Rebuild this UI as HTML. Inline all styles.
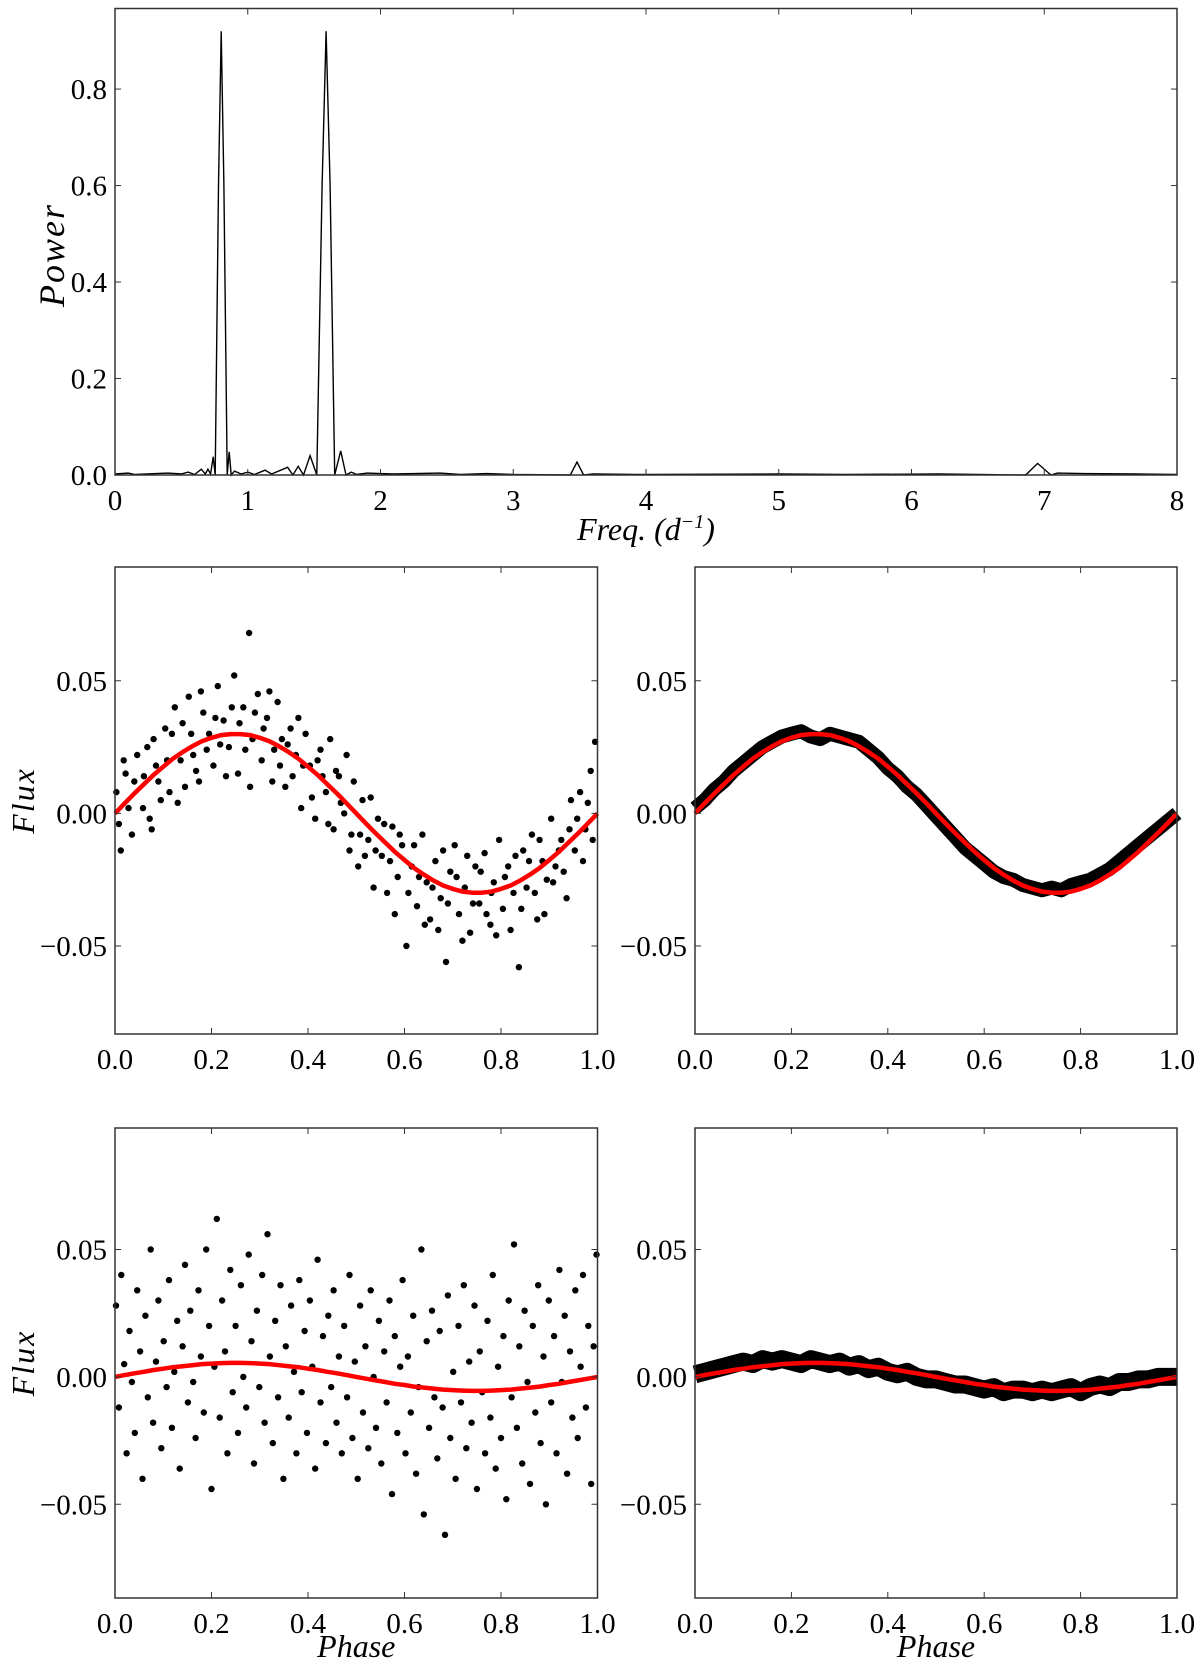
<!DOCTYPE html>
<html><head><meta charset="utf-8">
<style>
html,body{margin:0;padding:0;background:#fff;}
svg text{font-family:"Liberation Serif","DejaVu Serif",serif;fill:#000;}
</style></head>
<body>
<svg id="chart" width="1200" height="1662" viewBox="0 0 1200 1662" xmlns="http://www.w3.org/2000/svg"></svg>
<script>
// ---- periodogram data (freq, power) ----
const pgFreq = [0,0.1,0.15,0.4,0.5,0.55,0.6,0.65,0.68,0.7,0.72,0.74,0.755,0.78,0.8,0.82,0.845,0.86,0.875,0.9,0.95,1.0,1.05,1.13,1.18,1.3,1.34,1.38,1.42,1.47,1.52,1.56,1.59,1.62,1.655,1.7,1.74,1.78,1.82,1.9,2.0,2.1,2.45,2.6,2.8,3.0,3.43,3.48,3.53,3.6,4.0,5.0,5.5,6.2,6.86,6.95,7.05,7.1,7.3,7.7,8.0];
const pgPower = [0.002,0.004,0.001,0.004,0.002,0.006,0.001,0.012,0.002,0.012,0.002,0.038,0.0,0.6,0.92,0.6,0.0,0.048,0.0,0.008,0.002,0.006,0.001,0.01,0.002,0.016,0.0,0.018,0.0,0.04,0.0,0.6,0.92,0.6,0.0,0.05,0.0,0.006,0.001,0.004,0.003,0.002,0.004,0.001,0.003,0.001,0.0,0.027,0.0,0.002,0.001,0.002,0.001,0.002,0.0,0.024,0.0,0.004,0.003,0.002,0.001];
const pgXTicks = [0,1,2,3,4,5,6,7,8];
const pgYTicks = [0.0,0.2,0.4,0.6,0.8];

// ---- phase-folded data (phase in 1/1000, flux in 1e-3) ----
const midLeftPhase = [3,12,22,35,46,58,67,76,85,95,104,113,124,136,145,153,162,174,183,195,204,213,225,236,247,255,266,278,285,296,304,315,326,337,346,353,364,375,386,395,404,415,426,437,446,453,464,475,486,495,504,513,525,536,545,553,564,575,586,595,604,615,626,637,646,653,664,675,686,695,704,713,725,736,747,755,766,778,785,796,804,815,826,837,846,853,864,875,886,895,904,913,925,936,945,953,964,975,986,995,
8,18,28,40,60,72,80,90,108,118,130,140,158,168,178,190,208,218,230,242,258,270,280,290,308,320,330,342,358,368,380,390,408,420,430,442,458,468,480,490,508,518,530,540,558,570,580,590,608,620,630,642,658,670,680,690,708,720,730,742,758,770,780,790,808,820,830,842,858,870,880,890,908,920,930,942,958,970,980,990];
const midLeftFlux = [8,-14,15,-8,22,2,25,-6,18,5,32,8,40,20,10,44,22,12,38,30,18,48,35,25,52,15,40,68,28,45,20,36,12,42,28,10,32,22,2,30,18,-2,24,8,28,-6,14,0,-14,12,-20,5,-10,-28,-2,-16,-30,-5,-24,-12,-50,-20,-35,-8,-26,-40,-18,-32,-56,-22,-12,-38,-28,-45,-20,-34,-15,-42,-26,-10,-36,-20,-30,-58,-14,-28,-8,-40,-18,-25,-2,-20,-10,-32,5,-14,8,-6,16,27,
-4,20,2,12,14,-2,28,12,20,30,4,34,30,16,46,24,36,26,14,40,34,24,10,38,32,46,24,18,26,14,36,18,6,20,14,-4,16,4,22,-8,-8,-16,6,-14,-4,-18,-38,-8,-30,-12,-24,-42,-28,-44,-14,-34,-24,-48,-16,-34,-22,-38,-30,-46,-24,-44,-16,-36,-18,-30,-10,-38,-26,-14,-22,-6,-2,-18,4,-10];
const midRightFlux = [2,5,9,12,16,19,22,25,27,29,30,31,29,28,30,29,28,27,24,21,17,14,10,7,3,-1,-5,-9,-13,-16,-19,-22,-24,-25,-27,-28,-29,-28,-29,-27,-26,-25,-23,-21,-18,-15,-12,-9,-6,-3,0];
const botLeftPhase = [2,8,13,19,24,30,35,41,46,52,57,63,68,74,79,85,90,96,101,107,112,118,123,129,134,140,145,151,156,162,167,173,178,184,189,195,200,206,211,217,222,228,233,239,244,250,255,261,266,272,277,283,288,294,299,305,310,316,321,327,332,338,343,349,354,360,365,371,376,382,387,393,398,404,409,415,420,426,431,437,442,448,453,459,464,470,475,481,486,492,497,503,508,514,519,525,530,536,541,547,552,558,563,569,574,580,585,591,596,602,607,613,618,624,629,635,640,646,651,657,662,668,673,679,684,690,695,701,706,712,717,723,728,734,739,745,750,756,761,767,772,778,783,789,794,800,805,811,816,822,827,833,838,844,849,855,860,866,871,877,882,888,893,899,904,910,915,921,926,932,937,943,948,954,959,965,970,976,981,987,992,998];
const botLeftFlux = [28,-12,40,5,-30,18,-2,-22,34,10,-40,24,-8,50,-18,6,30,-28,14,-4,38,-20,2,22,-36,12,44,-10,26,-2,-24,34,8,-14,50,20,-44,4,62,-16,30,10,-30,42,-6,20,-22,36,0,-12,48,14,-34,26,-4,40,-18,56,8,-26,22,-8,36,-40,12,-16,28,2,-30,38,-6,18,-22,30,4,-36,46,-10,16,-26,24,-4,34,-18,8,-30,20,-8,40,-24,6,-40,28,-14,12,-28,34,0,-20,22,-34,10,-10,30,-46,16,-22,4,38,-30,8,-14,24,-38,-4,50,-54,14,-20,26,-8,-32,18,-12,-62,32,-24,2,-40,20,-10,36,-28,6,-18,28,-44,10,-6,-30,22,-16,40,-36,4,-24,16,-48,30,-8,52,-20,12,-34,26,-2,-42,20,-14,36,-26,8,-50,30,-10,16,-30,42,-2,24,-38,10,-16,34,-24,4,40,-12,20,-42,12,48];
const botRightFlux = [1,2,3,4,5,6,5,7,6,7,6,5,7,6,5,6,4,5,3,4,2,1,2,0,-1,-1,-2,-3,-3,-4,-5,-4,-6,-5,-5,-6,-5,-6,-5,-4,-6,-4,-3,-4,-2,-2,-1,-1,0,0,0];
// red fit curves, sampled at phase 0..1 step 0.02 (1e-3)
const fitMid = [0,3.8,7.5,11,14.5,17.6,20.6,23.1,25.3,27.2,28.5,29.5,29.9,29.9,29.5,28.5,27.2,25.3,23.1,20.6,17.6,14.5,11,7.5,3.8,0,-3.8,-7.5,-11,-14.5,-17.6,-20.6,-23.1,-25.3,-27.2,-28.5,-29.5,-29.9,-29.9,-29.5,-28.5,-27.2,-25.3,-23.1,-20.6,-17.6,-14.5,-11,-7.5,-3.8,0];
const fitBot = [0,0.7,1.4,2.0,2.7,3.2,3.8,4.2,4.6,5.0,5.2,5.4,5.5,5.5,5.4,5.2,5.0,4.6,4.2,3.8,3.2,2.7,2.0,1.4,0.7,0,-0.7,-1.4,-2.0,-2.7,-3.2,-3.8,-4.2,-4.6,-5.0,-5.2,-5.4,-5.5,-5.5,-5.4,-5.2,-5.0,-4.6,-4.2,-3.8,-3.2,-2.7,-2.0,-1.4,-0.7,0];
const phaseTicks = ['0.0','0.2','0.4','0.6','0.8','1.0'];
const fluxTicks = [0.05,0.0,-0.05];

const NS='http://www.w3.org/2000/svg';
const svg=document.getElementById('chart');
function mk(tag,attrs,parent){const e=document.createElementNS(NS,tag);for(const k in attrs)e.setAttribute(k,attrs[k]);(parent||svg).appendChild(e);return e;}
function fmtFlux(v){if(Math.abs(v)<1e-9)return '0.00';return (v<0?'\u22120.05':'0.05');}

function axesFrame(g,L,R,T,B){
  const r=mk('rect',{x:L,y:T,width:R-L,height:B-T,fill:'none',stroke:'#333','stroke-width':1.5},g);
  
  
}
function tick(g,x1,y1,x2,y2){mk('line',{x1:x1,y1:y1,x2:x2,y2:y2,stroke:'#333','stroke-width':1},g);}

// ---------- periodogram ----------
(function(){
  const L=115,R=1177,T=8.5,B=475,xmin=0,xmax=8,ymin=0,ymax=0.967;
  const sx=v=>L+(v-xmin)/(xmax-xmin)*(R-L);
  const sy=v=>B-(v-ymin)/(ymax-ymin)*(B-T);
  const g=mk('g',{});
  
  
  let d='';
  pgFreq.forEach((f,i)=>{d+=(i?'L':'M')+sx(f).toFixed(1)+','+sy(pgPower[i]).toFixed(1);});
  const p=mk('path',{d:d,fill:'none',stroke:'#000','stroke-width':1.4},g);
  
  
  axesFrame(g,L,R,T,B);
  pgXTicks.forEach(v=>{const x=sx(v);tick(g,x,B,x,B-6);tick(g,x,T,x,T+6);
    const t=mk('text',{x:x,y:B+35,'font-size':29,'text-anchor':'middle'},g);t.textContent=String(v);
    
    });
  pgYTicks.forEach(v=>{const y=sy(v);tick(g,L,y,L+6,y);tick(g,R,y,R-6,y);
    const t=mk('text',{x:L-8,y:y+10,'font-size':29,'text-anchor':'end'},g);t.textContent=v.toFixed(1);
    
    });
  const xl=mk('text',{x:(L+R)/2,y:540,'font-size':32,'text-anchor':'middle','font-style':'italic'},g);
  xl.innerHTML='Freq. (d<tspan font-size="20" dy="-12">\u22121</tspan><tspan dy="12">)</tspan>';
  
  
  const yl=mk('text',{x:0,y:0,'font-size':36,'text-anchor':'middle','font-style':'italic','letter-spacing':2,transform:'translate(64,255) rotate(-90)'},g);
  yl.textContent='Power';
  
  
})();

// ---------- phase panels ----------
function phasePanel(name,L,R,T,B,ymin,ymax,opts){
  const sx=v=>L+v*(R-L);
  const sy=v=>B-(v-ymin)/(ymax-ymin)*(B-T);
  const g=mk('g',{});
  
  
  if(opts.phase){
    opts.flux.forEach((f,i)=>{
      const c=mk('circle',{cx:sx(opts.phase[i]/1000).toFixed(1),cy:sy(f/1000).toFixed(1),r:3.2,fill:'#000'},g);
      
      
    });
  } else {
    let d='';
    opts.flux.forEach((f,i)=>{d+=(i?'L':'M')+sx(i/(opts.flux.length-1)).toFixed(1)+','+sy(f/1000).toFixed(1);});
    const p=mk('path',{d:d,fill:'none',stroke:'#000','stroke-width':opts.bw,'stroke-linejoin':'round'},g);
    
    
  }
  let d='';
  opts.fit.forEach((f,i)=>{d+=(i?'L':'M')+sx(i/(opts.fit.length-1)).toFixed(1)+','+sy(f/1000).toFixed(1);});
  const fl=mk('path',{d:d,fill:'none',stroke:'#f00','stroke-width':4.5,'stroke-linejoin':'round'},g);
  
  
  axesFrame(g,L,R,T,B);
  phaseTicks.forEach(s=>{const x=sx(parseFloat(s));tick(g,x,B,x,B-6);tick(g,x,T,x,T+6);
    const t=mk('text',{x:x,y:B+35,'font-size':29,'text-anchor':'middle'},g);t.textContent=s;
    
    });
  fluxTicks.forEach(v=>{const y=sy(v);tick(g,L,y,L+6,y);tick(g,R,y,R-6,y);
    const t=mk('text',{x:L-8,y:y+10,'font-size':29,'text-anchor':'end'},g);t.textContent=fmtFlux(v);
    
    });
  if(opts.ylabel){
    const yl=mk('text',{x:0,y:0,'font-size':32,'text-anchor':'middle','font-style':'italic','letter-spacing':2,transform:'translate(34,'+((T+B)/2)+') rotate(-90)'},g);
    yl.textContent='Flux';
    
    
  }
  if(opts.xlabel){
    const xl=mk('text',{x:(L+R)/2,y:1657,'font-size':32,'text-anchor':'middle','font-style':'italic'},g);
    xl.textContent='Phase';
    
    
  }
}
phasePanel('middle-left-panel',115,597.5,567,1034,-0.0832,0.0929,{phase:midLeftPhase,flux:midLeftFlux,fit:fitMid,ylabel:true});
phasePanel('middle-right-panel',695,1177,567,1034,-0.0832,0.0929,{flux:midRightFlux,bw:14,fit:fitMid});
phasePanel('bottom-left-panel',115,597.5,1128,1598,-0.0868,0.0977,{phase:botLeftPhase,flux:botLeftFlux,fit:fitBot,ylabel:true,xlabel:true});
phasePanel('bottom-right-panel',695,1177,1128,1598,-0.0868,0.0977,{flux:botRightFlux,bw:18,fit:fitBot,xlabel:true});
</script>
</body></html>
